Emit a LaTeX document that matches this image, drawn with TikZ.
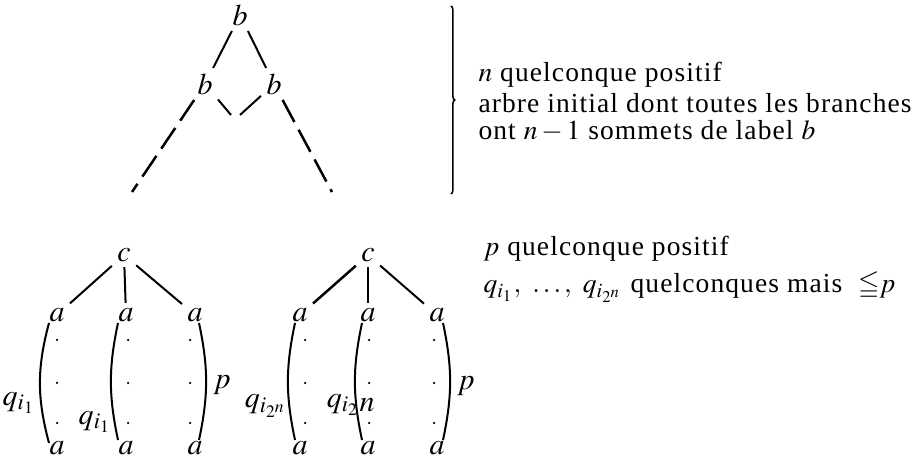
\documentclass[tikz,border=0pt]{standalone}
\usepackage{amssymb}
\usepackage{mathptmx}
\usepackage[no-math]{fontspec}
\setmainfont{Liberation Serif}[LetterSpace=4]
\usetikzlibrary{calc,decorations.pathreplacing}

\tikzset{
  lbl/.style={inner sep=2pt, font=\fontsize{12}{14}\selectfont},
  txt/.style={anchor=base west, inner sep=0pt, align=left, font=\fontsize{11}{13}\selectfont},
  edge/.style={line width=0.8pt},
  dashedge/.style={line width=1pt, dash pattern=on 10pt off 3.5pt},
  paren/.style={line width=0.8pt}
}

\begin{document}
\begin{tikzpicture}[x=0.4pt, y=-0.4pt]
    \useasboundingbox (0,0) rectangle (924,457);

    % initial tree, labels b
    \node[lbl] (rb) at (240,15) {$b$};
    \node[lbl] (lb) at (205,84) {$b$};
    \node[lbl] (sb) at (274,84) {$b$};
    \coordinate (ml) at (231,115);
    \coordinate (mr) at (240,115);
    \coordinate (el) at (132,192);
    \coordinate (er) at (332,192);
    \draw[edge] (rb) -- (lb);
    \draw[edge] (rb) -- (sb);
    \draw[edge] (lb) -- (ml);
    \draw[edge] (sb) -- (mr);
    \draw[dashedge] (lb) -- (el);
    \draw[dashedge] (sb) -- (er);

    % brace and comments
    \draw[line width=0.6pt, decorate, decoration={brace, amplitude=1.5pt}]
        (451,6) -- (451,194);
    \node[txt] (npos) at (478,82) {$n$ quelconque positif};
    % anchor is on the baseline of the last line
    \node[txt] (arbre) at (478,140) {arbre initial dont toutes les branches\\[-2pt]
        ont $n-1$ sommets de label $b$};

    % first tree, labels c and a
    \node[lbl] (c1) at (124,255) {$c$};
    \node[lbl] (a11) at (57,315) {$a$};
    \node[lbl] (a12) at (126,315) {$a$};
    \node[lbl] (a13) at (195,315) {$a$};
    \node[lbl] (z11) at (57,448) {$a$};
    \node[lbl] (z12) at (126,448) {$a$};
    \node[lbl] (z13) at (195,448) {$a$};
    \draw[edge] (c1) -- (a11);
    \draw[edge] (c1) -- (a12);
    \draw[edge] (c1) -- (a13);

    % second tree
    \node[lbl] (c2) at (368,255) {$c$};
    \node[lbl] (a21) at (300,315) {$a$};
    \node[lbl] (a22) at (368,315) {$a$};
    \node[lbl] (a23) at (437,315) {$a$};
    \node[lbl] (z21) at (300,448) {$a$};
    \node[lbl] (z22) at (368,448) {$a$};
    \node[lbl] (z23) at (437,448) {$a$};
    \draw[edge, line width=1pt] (c2) -- (a21);
    \draw[edge] (c2) -- (a22);
    \draw[edge] (c2) -- (a23);

    % dotted branches
    \foreach \x in {57,128,190,305,369,434}
        \foreach \y in {340,383,423}
            \fill (\x,\y) circle (0.5pt);

    % parentheses
    \draw[paren] (49,323) to[bend right=15] (49,443);
    \draw[paren] (118,323) to[bend right=12] (118,440);
    \draw[paren] (199,323) to[bend left=12] (199,440);
    \draw[paren] (295,323) to[bend right=12] (295,440);
    \draw[paren] (362,323) to[bend right=12] (362,440);
    \draw[paren] (443,323) to[bend left=12] (443,440);

    % branch lengths
    \node[lbl] (q1) at (19,403) {$q_{i_1}$};
    \node[lbl] (q2) at (95,422) {$q_{i_1}$};
    \node[lbl] (p1) at (222,385) {$p$};
    \node[lbl] (q3) at (266,406) {$q_{i_{2^n}}$};
    \node[lbl] (q4) at (343,405) {$q_{i_2}$};
    \node[lbl] (nn) at (367,405) {$n$};
    \node[lbl] (p2) at (466,386) {$p$};

    \node[txt] (ppos) at (483,256) {$p$ quelconque positif};
    \node[txt] (qq) at (483,293) {$q_{i_1},\ \ldots,\ q_{i_{2^n}}$ quelconques mais\ \ ${\leqq}p$};
\end{tikzpicture}
\end{document}
